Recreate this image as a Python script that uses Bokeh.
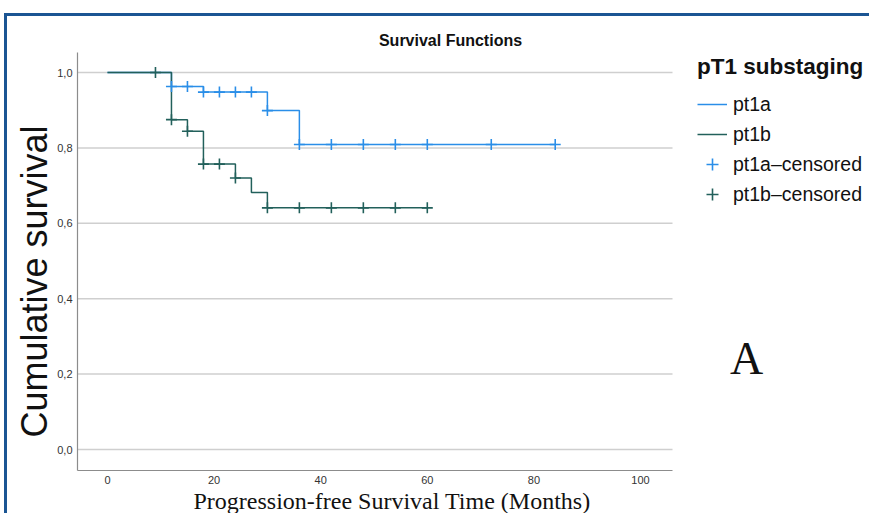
from bokeh.plotting import figure
from bokeh.models import Range1d, FixedTicker, Label, Legend, LegendItem, Title
from bokeh.embed import file_html
from bokeh.resources import INLINE

# ---------------- data ----------------
pt1a_time = [0, 12, 18, 30, 36, 84]
pt1a_surv = [1.0, 0.963, 0.948, 0.899, 0.809, 0.809]
pt1a_cens_time = [12, 15, 18, 21, 24, 27, 30, 36, 42, 48, 54, 60, 72, 84]
pt1a_cens_surv = [0.963, 0.963, 0.948, 0.948, 0.948, 0.948, 0.899,
                  0.809, 0.809, 0.809, 0.809, 0.809, 0.809, 0.809]

pt1b_time = [0, 12, 15, 18, 24, 27, 30, 60]
pt1b_surv = [1.0, 0.875, 0.844, 0.757, 0.720, 0.682, 0.641, 0.641]
pt1b_cens_time = [9, 12, 15, 18, 21, 24, 30, 36, 42, 48, 54, 60]
pt1b_cens_surv = [1.0, 0.875, 0.844, 0.757, 0.757, 0.720,
                  0.641, 0.641, 0.641, 0.641, 0.641, 0.641]

x_ticks = [0, 20, 40, 60, 80, 100]
y_ticks = [0.0, 0.2, 0.4, 0.6, 0.8, 1.0]
y_tick_labels = ["0,0", "0,2", "0,4", "0,6", "0,8", "1,0"]

series_labels = ["pt1a", "pt1b", "pt1a\u2013censored", "pt1b\u2013censored"]
legend_title = "pT1 substaging"
chart_title = "Survival Functions"
x_title = "Progression-free Survival Time (Months)"
y_title = "Cumulative survival"
panel_letter = "A"

# ---------------- layout / style ----------------
W, H = 869, 513
PX0, PXS = 107.0, 5.33     # canvas px of x=0, px per month
PY0, PYS = 449.0, 377.0    # canvas px of y=0, px per unit
FL, FB = 77, 470           # frame left / bottom (frame reaches canvas top and right)
AX_RIGHT, AX_TOP = 672, 52  # where the drawn axes end


def fx(px):
    return (px - PX0) / PXS


def fy(py):
    return (PY0 - py) / PYS


X0, X1 = fx(FL), fx(W)
Y0, Y1 = fy(FB), fy(0)

BLUE = "#2a8ee8"
TEAL = "#22605b"
FRAME = "#1b5593"
SANS = "Liberation Sans"
SERIF = "Liberation Serif"

p = figure(width=W, height=H, x_range=Range1d(X0, X1), y_range=Range1d(Y0, Y1),
           output_backend="svg", toolbar_location=None, title=None,
           min_border_left=FL, min_border_right=0,
           min_border_top=0, min_border_bottom=H - FB,
           background_fill_color=None, border_fill_color=None,
           outline_line_color=None)
p.styles = {
    "background": (f"linear-gradient({FRAME},{FRAME}) 4px 13px / 100% 3px no-repeat, "
                   f"linear-gradient({FRAME},{FRAME}) 4px 13px / 3px 100% no-repeat, #ffffff"),
}

# axes
p.xaxis.ticker = FixedTicker(ticks=x_ticks)
p.yaxis.ticker = FixedTicker(ticks=y_ticks)
p.yaxis.major_label_overrides = dict(zip(y_ticks, y_tick_labels))
p.xaxis.bounds = (X0, fx(AX_RIGHT))
p.yaxis.bounds = (Y0, fy(AX_TOP))
for ax in (p.xaxis, p.yaxis):
    ax.axis_line_color = "#8c8c8c"
    ax.axis_line_width = 1.2
    ax.major_tick_line_color = None
    ax.minor_tick_line_color = None
    ax.major_tick_out = 0
    ax.major_tick_in = 0
    ax.minor_tick_out = 0
    ax.minor_tick_in = 0
    ax.major_label_text_font = SANS
    ax.major_label_text_font_size = "11px"
    ax.major_label_text_color = "#333333"
p.xaxis.major_label_standoff = 5
p.yaxis.major_label_standoff = 5

p.grid.visible = False
# horizontal grid lines at the y ticks, ending where the axes end
p.segment(x0=[X0] * len(y_ticks), x1=[fx(AX_RIGHT)] * len(y_ticks),
          y0=y_ticks, y1=y_ticks, line_color="#cfcfcf", line_width=1.5)

# axis titles as side-panel titles (so they can be offset like the reference)
p.add_layout(Title(text=x_title, align="left", offset=116, standoff=-1,
                   text_font=SERIF, text_font_size="24px", text_font_style="normal",
                   text_color="#111111"), "below")
p.add_layout(Title(text=y_title, align="left", offset=33, standoff=0,
                   text_font=SANS, text_font_size="36px", text_font_style="normal",
                   text_color="#111111"), "left")

# curves
la = p.step(pt1a_time, pt1a_surv, mode="after", line_color=BLUE, line_width=1.5)
lb = p.step(pt1b_time, pt1b_surv, mode="after", line_color=TEAL, line_width=1.5)
ca = p.scatter(pt1a_cens_time, pt1a_cens_surv, marker="cross", size=11,
               line_color=BLUE, line_width=1.6)
cb = p.scatter(pt1b_cens_time, pt1b_cens_surv, marker="cross", size=11,
               line_color=TEAL, line_width=1.6)

legend = Legend(
    items=[LegendItem(label=series_labels[0], renderers=[la]),
           LegendItem(label=series_labels[1], renderers=[lb]),
           LegendItem(label=series_labels[2], renderers=[ca]),
           LegendItem(label=series_labels[3], renderers=[cb])],
    title=legend_title,
    location=(620, 261),
    margin=0, padding=4, spacing=0,
    label_height=30, glyph_height=30, glyph_width=30, label_standoff=6,
    title_standoff=9,
    title_text_font=SANS, title_text_font_style="bold",
    title_text_font_size="22.5px", title_text_color="#111111",
    label_text_font=SANS, label_text_font_size="19.5px", label_text_color="#111111",
    border_line_color=None, background_fill_alpha=0,
)
p.add_layout(legend, "center")

# texts inside the (extended) frame
p.add_layout(Label(x=fx(450), y=fy(40), text=chart_title, text_font=SANS,
                   text_font_style="bold", text_font_size="16px", text_color="#111111",
                   text_align="center", text_baseline="middle"))
p.add_layout(Label(x=fx(746), y=fy(358), text=panel_letter, text_font=SERIF,
                   text_font_size="46px", text_color="#111111",
                   text_align="center", text_baseline="middle"))

open("out.html", "w").write(file_html(p, INLINE))
